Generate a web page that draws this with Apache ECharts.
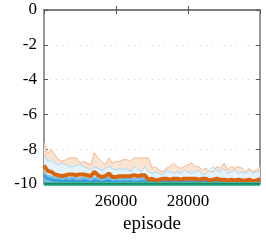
<!DOCTYPE html>
<html><head><meta charset="utf-8">
<script src="https://cdn.jsdelivr.net/npm/echarts@6/dist/echarts.min.js"></script>
<style>html,body{margin:0;padding:0;background:#fff}#c{width:266px;height:240px}</style>
</head><body><div id="c"></div>
<script>
const episodes = [];
for (let e = 24000; e <= 30000; e += 100) episodes.push(e);
const orangeUpper = [-7.6,-8.3,-8.0,-8.3,-8.6,-8.7,-8.6,-8.5,-8.5,-8.5,-8.8,-8.7,-8.8,-8.9,-8.2,-8.5,-8.7,-8.9,-8.5,-8.8,-8.7,-8.7,-8.6,-8.6,-8.7,-8.5,-8.5,-8.5,-8.5,-8.5,-9.1,-9.0,-9.2,-9.3,-9.1,-9.0,-8.8,-9.0,-9.1,-9.0,-8.9,-8.8,-9.0,-9.0,-9.2,-9.1,-9.3,-9.3,-9.0,-9.1,-8.8,-9.2,-9.0,-9.1,-9.0,-9.1,-9.3,-9.1,-9.3,-9.2,-9.0];
const blueUpper = [-8.3,-8.7,-8.6,-8.8,-8.9,-8.8,-8.9,-9.0,-9.0,-8.9,-8.9,-9.0,-9.1,-9.2,-9.0,-9.1,-9.2,-9.1,-9.0,-9.1,-9.2,-9.1,-9.2,-9.1,-9.3,-9.0,-9.1,-9.3,-9.0,-9.3,-9.4,-9.3,-9.4,-9.5,-9.2,-9.3,-9.4,-9.3,-9.4,-9.2,-9.3,-9.4,-9.3,-9.2,-9.5,-9.4,-9.2,-9.0,-9.2,-9.3,-9.1,-9.4,-9.3,-9.2,-9.4,-9.3,-9.4,-9.2,-9.4,-9.3,-9.3];
const orangeMean = [-8.95,-9.25,-9.3,-9.45,-9.5,-9.55,-9.5,-9.45,-9.45,-9.5,-9.45,-9.45,-9.5,-9.55,-9.3,-9.5,-9.6,-9.55,-9.4,-9.6,-9.6,-9.55,-9.55,-9.55,-9.55,-9.5,-9.55,-9.5,-9.5,-9.75,-9.7,-9.8,-9.75,-9.7,-9.7,-9.75,-9.7,-9.7,-9.75,-9.7,-9.7,-9.7,-9.7,-9.75,-9.7,-9.7,-9.8,-9.75,-9.7,-9.75,-9.75,-9.8,-9.75,-9.8,-9.75,-9.8,-9.8,-9.75,-9.85,-9.8,-9.7];
const blueBandUpper = [-9.3,-9.5,-9.55,-9.6,-9.6,-9.65,-9.6,-9.65,-9.6,-9.65,-9.65,-9.6,-9.65,-9.7,-9.6,-9.65,-9.7,-9.65,-9.6,-9.7,-9.65,-9.7,-9.65,-9.7,-9.65,-9.7,-9.7,-9.6,-9.65,-9.7,-9.8,-9.75,-9.75,-9.8,-9.75,-9.75,-9.8,-9.75,-9.75,-9.75,-9.8,-9.75,-9.75,-9.8,-9.75,-9.75,-9.8,-9.75,-9.75,-9.8,-9.75,-9.8,-9.75,-9.75,-9.8,-9.75,-9.8,-9.75,-9.8,-9.75,-9.75];
const blueMean = [-9.5,-9.7,-9.75,-9.8,-9.8,-9.85,-9.8,-9.85,-9.8,-9.85,-9.85,-9.8,-9.85,-9.9,-9.8,-9.85,-9.9,-9.85,-9.8,-9.9,-9.85,-9.9,-9.85,-9.9,-9.85,-9.9,-9.9,-9.85,-9.85,-9.9,-9.9,-9.9,-9.9,-9.9,-9.9,-9.9,-9.9,-9.9,-9.9,-9.9,-9.9,-9.9,-9.9,-9.9,-9.9,-9.9,-9.9,-9.9,-9.9,-9.9,-9.9,-9.9,-9.9,-9.9,-9.9,-9.9,-9.9,-9.9,-9.9,-9.9,-9.9];
const greenMean = episodes.map(() => -10);

const pair = arr => episodes.map((e, i) => [e, arr[i]]);
const font = 'Liberation Serif';
const chart = echarts.init(document.getElementById('c'), null, {renderer: 'canvas'});
chart.setOption({
  animation: false,
  grid: {left: 44, right: 6, top: 10, bottom: 56},
  xAxis: [{
    type: 'value', min: 24000, max: 30000, interval: 2000,
    name: 'episode', nameLocation: 'middle', nameGap: 31,
    nameTextStyle: {fontFamily: font, fontSize: 19, color: '#000'},
    axisLabel: {fontFamily: font, fontSize: 17, color: '#000', margin: 9, showMinLabel: false, showMaxLabel: false,
      formatter: v => String(v)},
    axisLine: {lineStyle: {color: '#777', width: 1.5}},
    axisTick: {inside: true, length: 4, lineStyle: {color: '#555'}},
    splitLine: {show: false}
  }, {
    type: 'value', position: 'top', min: 24000, max: 30000, interval: 2000,
    axisLabel: {show: false},
    axisLine: {show: true, lineStyle: {color: '#777', width: 1.5}},
    axisTick: {inside: true, length: 4, lineStyle: {color: '#555'}},
    splitLine: {show: false}
  }],
  yAxis: [{
    type: 'value', min: -10, max: 0, interval: 2,
    axisLabel: {fontFamily: font, fontSize: 17, color: '#000', margin: 7},
    axisLine: {show: true, lineStyle: {color: '#777', width: 1.5}},
    axisTick: {show: true, inside: true, length: 4, lineStyle: {color: '#555'}},
    splitLine: {show: true, lineStyle: {color: '#cfcfcf', type: [1, 5], width: 1}}
  }, {
    type: 'value', position: 'right', min: -10, max: 0, interval: 2,
    axisLabel: {show: false},
    axisLine: {show: true, lineStyle: {color: '#777', width: 1.5}},
    axisTick: {show: true, inside: true, length: 4, lineStyle: {color: '#555'}},
    splitLine: {show: false}
  }],
  series: [
    {type: 'line', data: pair(orangeUpper), symbol: 'none', lineStyle: {color: '#f4b58c', width: 1},
     areaStyle: {origin: 'start', color: '#fbe3d2', opacity: 1}},
    {type: 'line', data: pair(blueUpper), symbol: 'none', lineStyle: {color: '#a9d9f3', width: 1},
     areaStyle: {origin: 'start', color: '#e3f2fb', opacity: 1}},
    {type: 'line', data: pair(blueBandUpper), symbol: 'none', lineStyle: {color: '#6fbde9', width: 1},
     areaStyle: {origin: 'start', color: '#72bfea', opacity: 1}},
    {type: 'line', data: pair(blueMean), symbol: 'none', lineStyle: {color: '#3a97d6', width: 2.5}},
    {type: 'line', data: pair(orangeMean), symbol: 'none', lineStyle: {color: '#d9640c', width: 4}},
    {type: 'line', data: pair(greenMean), symbol: 'none', lineStyle: {color: '#3fbf97', width: 4}},
    {type: 'line', data: pair(greenMean), symbol: 'none', lineStyle: {color: '#17725a', width: 1.5}}
  ]
});
</script></body></html>
